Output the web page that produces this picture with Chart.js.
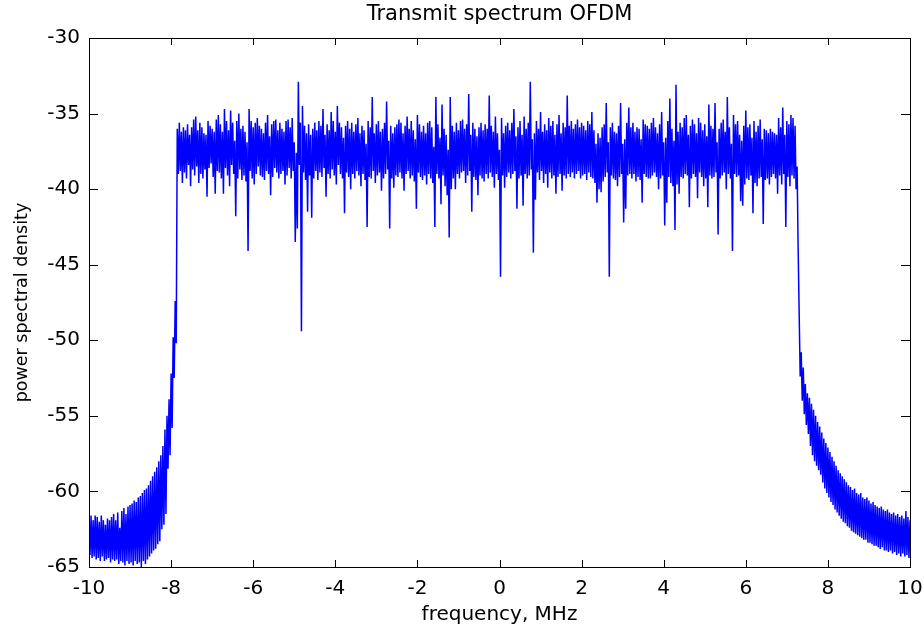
<!DOCTYPE html>
<html><head><meta charset="utf-8">
<script src="https://cdn.jsdelivr.net/npm/chart.js@4"></script>
<style>html,body{margin:0;padding:0;background:#fff}</style>
</head><body>
<canvas id="c" width="924" height="627" style="display:block;width:924px;height:627px"></canvas>
<script>
const titleText = 'Transmit spectrum OFDM';
const xLabel = 'frequency, MHz';
const yLabel = 'power spectral density';
const xTicks = [-10, -8, -6, -4, -2, 0, 2, 4, 6, 8, 10];
const yTicks = [-30, -35, -40, -45, -50, -55, -60, -65];

// Spectrum read as frequency bins (MHz); each bin holds the highest and lowest PSD seen in it.
const binWidth = 0.05;

const lowerSkirtStart = -10.0;
const lowerSkirtHi = [
 -61.7,-61.6,-61.9,-61.6,-61.7,-62.0,-61.6,-61.9,-62.2,-61.8,
 -61.9,-61.7,-61.5,-61.9,-61.4,-62.4,-61.3,-61.1,-61.5,-61.0,
 -60.9,-60.8,-60.6,-60.7,-60.4,-60.3,-60.1,-59.9,-59.8,-59.6,
 -59.3,-59.0,-58.7,-58.4,-58.0,-57.6,-57.0,-55.9,-55.0,-53.9,
 -52.2,-49.8,-47.4
];
const lowerSkirtLo = [
 -64.2,-64.4,-64.3,-64.5,-64.4,-64.6,-64.3,-64.6,-64.5,-64.4,
 -64.7,-64.5,-64.6,-64.5,-64.8,-64.6,-64.7,-64.9,-64.6,-64.8,
 -64.7,-64.9,-64.6,-64.8,-64.7,-65.0,-64.6,-64.8,-64.5,-64.3,
 -64.1,-63.9,-63.8,-63.5,-63.3,-62.5,-62.2,-61.5,-58.5,-57.6,
 -55.8,-52.5,-50.2
];

const passbandStart = -7.85;
const passbandHi = [
 -36.0,-35.6,-36.2,-35.9,-36.1,-35.7,-36.4,-35.9,-35.4,-35.2,
 -36.1,-35.6,-35.9,-36.3,-36.4,-35.5,-35.8,-36.0,-36.2,-35.4,
 -35.1,-35.7,-36.2,-34.7,-35.5,-36.1,-34.8,-35.6,-36.8,-35.5,
 -35.0,-36.0,-35.8,-36.2,-36.9,-34.7,-35.5,-35.9,-35.6,-35.3,
 -35.8,-36.0,-36.3,-35.6,-35.1,-36.5,-35.7,-35.5,-35.4,-36.1,
 -35.6,-36.0,-36.2,-35.5,-35.4,-35.9,-35.3,-36.9,-37.6,-32.9,
 -35.6,-34.5,-35.8,-36.3,-35.7,-36.4,-36.0,-35.6,-36.1,-35.5,
 -35.8,-34.7,-36.4,-35.7,-36.1,-34.9,-35.5,-36.2,-34.5,-35.6,
 -35.9,-36.6,-35.8,-35.5,-36.0,-35.6,-36.2,-35.7,-35.3,-36.3,
 -35.8,-36.1,-37.0,-35.5,-35.9,-33.9,-36.3,-35.7,-35.5,-36.2,
 -36.0,-35.6,-34.2,-36.8,-35.8,-36.3,-35.9,-35.7,-35.4,-35.6,
 -36.3,-35.8,-35.2,-36.0,-35.5,-36.1,-36.7,-35.1,-35.7,-36.2,
 -35.8,-36.3,-35.6,-35.5,-35.9,-37.2,-33.9,-35.7,-36.6,-34.4,
 -36.0,-36.4,-37.4,-33.9,-35.8,-36.2,-35.6,-36.1,-35.5,-35.4,
 -36.0,-35.7,-33.7,-36.4,-35.6,-36.0,-36.5,-35.9,-35.6,-36.1,
 -35.7,-36.0,-33.8,-35.8,-36.2,-35.2,-36.3,-37.4,-35.3,-36.3,
 -35.8,-35.6,-36.1,-35.6,-34.7,-36.5,-35.9,-35.5,-36.4,-35.2,
 -36.0,-35.6,-32.9,-36.7,-36.3,-35.5,-36.0,-34.9,-36.2,-35.7,
 -36.1,-35.3,-35.8,-35.5,-36.4,-35.7,-35.1,-36.3,-35.6,-35.9,
 -33.8,-35.8,-35.5,-36.0,-35.7,-35.4,-35.9,-35.6,-35.8,-36.1,
 -35.5,-35.7,-34.9,-36.1,-37.0,-36.3,-36.6,-35.9,-35.7,-34.3,
 -36.9,-35.9,-35.6,-36.2,-36.3,-35.8,-34.3,-37.0,-36.7,-35.6,
 -34.6,-35.9,-35.6,-36.2,-35.9,-36.0,-36.7,-35.4,-35.7,-35.8,
 -36.0,-35.6,-35.3,-35.9,-36.3,-35.7,-34.9,-36.9,-36.6,-35.5,
 -34.0,-36.0,-36.8,-33.1,-36.2,-35.6,-35.9,-35.3,-35.1,-36.4,
 -35.8,-35.4,-35.7,-36.3,-35.3,-35.6,-36.1,-35.7,-36.5,-34.4,
 -35.8,-36.0,-34.3,-36.9,-36.0,-35.6,-35.4,-36.2,-33.9,-35.9,
 -37.0,-35.1,-35.7,-35.5,-36.4,-36.8,-35.8,-34.8,-35.9,-35.7,
 -36.6,-35.5,-36.2,-35.8,-35.4,-36.7,-36.0,-36.1,-36.3,-36.0,
 -36.2,-36.3,-36.4,-35.3,-35.9,-34.6,-36.4,-35.5,-35.7,-35.1,
 -35.3,-35.8,-38.5
];
const passbandLo = [
 -39.0,-38.8,-39.6,-38.9,-39.3,-38.4,-39.8,-38.7,-39.1,-38.5,
 -39.6,-39.0,-39.3,-38.7,-40.5,-38.6,-38.3,-39.2,-40.3,-38.8,
 -38.9,-39.3,-40.3,-38.6,-39.1,-39.8,-38.4,-39.0,-41.8,-39.3,
 -38.7,-39.4,-39.1,-39.5,-44.1,-38.8,-39.3,-39.7,-39.0,-38.5,
 -39.1,-39.2,-39.4,-38.8,-39.0,-40.4,-39.2,-38.6,-38.9,-39.3,
 -39.0,-38.8,-39.7,-39.1,-38.6,-39.3,-38.8,-43.5,-42.6,-38.4,
 -49.4,-38.9,-39.4,-41.5,-39.1,-41.9,-39.3,-38.8,-39.4,-38.9,
 -39.2,-38.6,-40.5,-39.0,-39.3,-38.7,-39.1,-39.7,-38.4,-39.0,
 -39.3,-41.6,-38.9,-39.2,-40.0,-39.0,-39.3,-38.8,-39.1,-39.8,
 -39.0,-39.4,-42.5,-39.2,-39.3,-38.8,-39.6,-39.1,-38.9,-40.1,
 -39.3,-39.0,-38.7,-42.6,-39.3,-39.9,-39.1,-39.2,-38.9,-39.3,
 -40.1,-39.0,-38.8,-39.3,-39.1,-39.5,-41.3,-38.9,-39.2,-39.4,
 -39.1,-39.7,-39.0,-39.3,-39.6,-42.5,-39.0,-39.3,-41.0,-39.1,
 -39.8,-40.4,-43.2,-40.0,-39.3,-40.0,-39.0,-39.3,-38.9,-38.8,
 -39.6,-39.1,-38.8,-41.5,-39.2,-39.4,-40.4,-39.1,-39.3,-39.5,
 -39.0,-39.3,-38.9,-39.2,-39.9,-39.0,-39.4,-45.8,-39.1,-39.9,
 -39.2,-38.9,-39.3,-39.0,-38.8,-41.3,-39.3,-39.1,-41.1,-39.0,
 -39.3,-39.1,-38.7,-44.2,-40.7,-38.9,-39.4,-38.8,-39.6,-39.0,
 -39.9,-38.9,-39.3,-39.1,-40.3,-39.2,-39.0,-40.1,-39.1,-39.3,
 -39.0,-39.2,-38.9,-39.3,-39.0,-38.8,-39.3,-39.1,-39.0,-39.4,
 -38.9,-39.2,-39.3,-39.6,-40.9,-40.0,-40.2,-39.5,-39.2,-38.9,
 -45.8,-39.1,-39.3,-39.4,-39.8,-39.2,-39.0,-42.2,-41.3,-39.1,
 -39.0,-39.3,-39.0,-39.5,-39.2,-39.4,-40.9,-39.0,-39.2,-39.3,
 -39.3,-39.1,-38.9,-39.2,-40.0,-39.3,-39.1,-42.4,-40.9,-39.2,
 -39.6,-39.8,-42.7,-39.7,-40.3,-39.2,-39.3,-39.0,-39.1,-41.2,
 -39.3,-39.0,-39.2,-40.6,-38.9,-39.2,-39.8,-39.3,-41.2,-39.1,
 -39.3,-39.2,-38.9,-43.0,-39.3,-39.1,-38.9,-40.0,-39.0,-39.3,
 -44.1,-39.0,-39.2,-39.1,-40.8,-41.1,-39.7,-39.3,-39.4,-39.1,
 -41.6,-39.6,-39.8,-39.3,-39.2,-42.3,-39.4,-39.3,-39.7,-39.2,
 -39.0,-39.3,-40.3,-39.1,-39.7,-39.0,-42.5,-39.2,-39.8,-39.1,
 -39.3,-40.0,-43.9
];

const upperSkirtStart = 7.30;
const upperSkirtHi = [
 -48.2,-50.8,-51.8,-52.9,-53.5,-53.8,-54.2,-54.6,-55.0,-55.4,
 -55.7,-56.1,-56.5,-56.8,-57.1,-57.4,-57.7,-58.0,-58.3,-58.6,
 -58.8,-59.0,-59.2,-59.4,-59.6,-59.7,-59.9,-59.8,-60.1,-60.2,
 -60.1,-60.4,-60.5,-60.4,-60.6,-60.8,-60.7,-60.9,-61.0,-61.1,
 -61.0,-61.2,-61.3,-61.2,-61.4,-61.5,-61.4,-61.6,-61.5,-61.7,
 -61.6,-61.8,-61.3,-61.7,-61.9
];
const upperSkirtLo = [
 -52.4,-54.0,-54.9,-55.6,-56.2,-57.0,-57.6,-58.0,-58.3,-58.6,
 -58.9,-59.4,-59.8,-60.1,-60.4,-60.7,-60.9,-61.2,-61.4,-61.6,
 -61.8,-62.0,-62.1,-62.3,-62.4,-62.6,-62.7,-62.8,-62.9,-63.0,
 -63.1,-63.2,-63.2,-63.4,-63.4,-63.5,-63.6,-63.6,-63.7,-63.8,
 -63.7,-63.9,-63.9,-64.0,-63.9,-64.1,-64.0,-64.2,-64.1,-64.3,
 -64.1,-64.3,-64.2,-64.4,-64.2
];

function segment(start, hi, lo) {
  const out = [];
  hi.forEach((h, i) => {
    const f = start + i * binWidth;
    out.push({ x: f, y: h });
    out.push({ x: f + binWidth / 2, y: lo[i] });
  });
  return out;
}
const points = [].concat(
  segment(lowerSkirtStart, lowerSkirtHi, lowerSkirtLo),
  segment(passbandStart, passbandHi, passbandLo),
  segment(upperSkirtStart, upperSkirtHi, upperSkirtLo)
);

const FONT = 'DejaVu Sans';

const framePlugin = {
  id: 'frame',
  afterDatasetsDraw(chart) {
    const { ctx, chartArea: a, scales: { x, y } } = chart;
    ctx.save();
    ctx.strokeStyle = '#000';
    ctx.lineWidth = 1;
    ctx.beginPath();
    xTicks.forEach(v => {
      const px = Math.round(x.getPixelForValue(v)) + 0.5;
      ctx.moveTo(px, a.bottom); ctx.lineTo(px, a.bottom - 7);
      ctx.moveTo(px, a.top); ctx.lineTo(px, a.top + 7);
    });
    yTicks.forEach(v => {
      const py = Math.round(y.getPixelForValue(v)) + 0.5;
      ctx.moveTo(a.left, py); ctx.lineTo(a.left + 9, py);
      ctx.moveTo(a.right, py); ctx.lineTo(a.right - 9, py);
    });
    ctx.stroke();
    ctx.strokeRect(Math.round(a.left) + 0.5, Math.round(a.top) + 0.5,
      Math.round(a.right - a.left), Math.round(a.bottom - a.top));
    ctx.restore();
  }
};

new Chart(document.getElementById('c'), {
  type: 'line',
  data: {
    datasets: [{
      data: points,
      borderColor: '#0000ff',
      borderWidth: 1.5,
      pointRadius: 0,
      tension: 0,
      fill: false
    }]
  },
  options: {
    responsive: false,
    devicePixelRatio: 1,
    animation: false,
    parsing: false,
    layout: { padding: { left: 0, right: 14, top: 0, bottom: 0 } },
    plugins: {
      legend: { display: false },
      tooltip: { enabled: false },
      title: {
        display: true,
        text: titleText,
        fullSize: false,
        color: '#000',
        font: { family: FONT, size: 21, weight: 'normal', lineHeight: 1.2 },
        padding: { top: 2, bottom: 10.8 }
      }
    },
    scales: {
      x: {
        type: 'linear',
        min: -10, max: 10,
        afterBuildTicks: s => { s.ticks = xTicks.map(v => ({ value: v })); },
        afterFit: s => { s.height = 60; s.paddingLeft = 0; s.paddingRight = 0; },
        grid: { display: false, drawTicks: false },
        border: { display: false },
        ticks: { color: '#000', font: { family: FONT, size: 20 }, padding: 10, maxRotation: 0 },
        title: { display: true, text: xLabel, color: '#000', font: { family: FONT, size: 20 }, padding: { top: 4, bottom: 0 } }
      },
      y: {
        type: 'linear',
        min: -65, max: -30,
        afterBuildTicks: s => { s.ticks = yTicks.map(v => ({ value: v })); },
        afterFit: s => { s.width = 89; s.paddingTop = 0; s.paddingBottom = 0; },
        grid: { display: false, drawTicks: false },
        border: { display: false },
        ticks: { color: '#000', font: { family: FONT, size: 20 }, padding: 9 },
        title: { display: true, text: yLabel, color: '#000', font: { family: FONT, size: 17.5 }, padding: { top: 11.5, bottom: 0 } }
      }
    }
  },
  plugins: [framePlugin]
});
</script>
</body></html>
